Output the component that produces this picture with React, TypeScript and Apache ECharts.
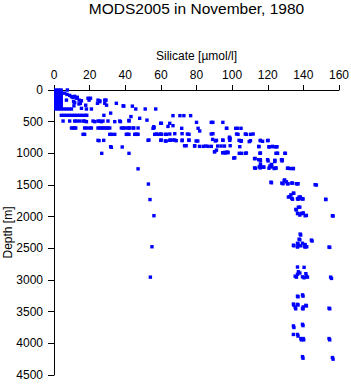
import React, { useEffect, useRef } from "react";
import * as echarts from "echarts";

const titleText = "MODS2005 in November, 1980";
const xName = "Silicate [µmol/l]";
const yName = "Depth [m]";
const xMin = 0, xMax = 160, xStep = 20;
const yMin = 0, yMax = 4500, yStep = 500;

// [silicate, depth]
const surfaceBlock: [number, number][] = [
  [1, 0], [2.5, 0], [4, 0], [1, 25], [2.5, 25], [4, 25], [1, 50], [2.5, 50], [4, 50],
  [1, 75], [2.5, 75], [4, 75], [1, 100], [2.5, 100], [4, 100], [1, 125], [2.5, 125], [4, 125],
  [1, 150], [2.5, 150], [4, 150], [1, 175], [2.5, 175], [4, 175], [1, 200], [2.5, 200], [4, 200],
  [1, 225], [2.5, 225], [4, 225], [1, 250], [2.5, 250], [4, 250], [1, 275], [2.5, 275], [4, 275],
  [1, 300], [2.5, 300], [4, 300],
];

const upperPoints: [number, number][] = [
  [7.5, 0], [6, 50], [7.3, 70], [8.8, 85], [9.8, 105], [10.7, 120], [11.6, 100], [12.6, 130], [13.1, 115],
  [7, 160], [11, 185], [14.1, 160], [15.4, 170], [11.6, 200], [14.8, 210], [14, 220], [17.8, 240],
  [19.1, 130], [20.5, 130], [19.7, 160], [24.7, 160], [25.7, 170], [28.5, 160], [29.2, 160], [25.7, 185],
  [24.4, 210], [28.5, 210], [35, 210], [29.5, 240], [38.8, 250], [39.2, 255], [44, 255], [11.2, 250],
  [15.4, 290], [18.2, 300], [21, 300], [45.9, 300], [51.2, 300], [57.1, 300], [5.5, 300], [7, 300],
  [8.5, 300], [9.8, 300],
];

const rows400to500: [number, number][] = [
  [4.1, 400], [5.5, 400], [7, 400], [8.5, 400], [10, 400], [11.5, 400], [13, 400], [14.5, 400], [16, 400],
  [17.5, 400], [18.4, 400], [28, 400], [31.8, 365], [43.2, 420], [42.1, 480], [48.1, 447], [52.2, 476],
  [36.9, 490], [34.1, 500], [26.6, 500], [42.1, 490], [5.1, 490], [8.8, 490], [11.6, 490], [12.6, 490],
  [14.4, 490], [16.3, 490], [17.2, 490], [18.2, 500], [21.9, 490], [22.9, 500], [24.7, 490], [25.7, 490],
  [27.5, 490], [30.3, 490], [37.3, 500], [66.8, 405], [70.7, 405], [72.9, 405], [76.7, 405], [80, 511],
  [88.3, 511], [89.2, 511], [94.8, 511], [59.9, 526], [60.3, 526], [65, 526], [64, 575], [66.8, 563],
];

const rows600to700: [number, number][] = [
  [9.8, 600], [10.7, 600], [11.6, 600], [12.2, 600], [17.2, 600], [18.2, 600], [20, 600], [21, 600],
  [24.7, 600], [25.7, 600], [26.6, 600], [27.5, 600], [28.5, 600], [29.4, 600], [30.3, 600], [31.3, 600],
  [37.8, 600], [38.8, 600], [39.7, 600], [41.2, 600], [42.1, 600], [42.5, 600], [44.4, 600], [44.8, 600],
  [47.2, 600], [55.6, 605], [56, 580], [56.2, 595], [71.7, 605], [80.9, 605], [81.8, 647], [97, 605],
  [96.8, 605], [102, 605], [103, 605], [105, 605],
  [16.3, 700], [17.2, 700], [31.3, 700], [32.2, 700], [34.1, 700], [40.6, 700], [41.2, 700], [42.1, 700],
  [45.3, 700], [45.9, 700], [46.6, 700], [47.2, 700], [56.5, 700], [57.5, 695], [58.4, 700], [59.9, 695],
  [60.3, 700], [62.5, 700], [63.1, 700], [65, 695], [67.8, 690], [71.9, 690], [74.9, 695], [75.8, 700],
  [88.3, 695], [89.2, 690], [98.5, 745], [98.5, 765], [102.5, 695], [103.3, 700], [107.4, 695], [108, 700],
  [110.3, 700], [111.8, 695],
];

const rows800to1000: [number, number][] = [
  [24.7, 795], [25.3, 800], [27.9, 795], [52.8, 795], [53.3, 790], [59.9, 795], [60.2, 790], [62.5, 805],
  [63, 805], [65, 795], [65.3, 790], [66.8, 790], [67.8, 790], [68.6, 800], [71.9, 800], [72, 790],
  [75.7, 790], [75.8, 795], [79.8, 805], [80.7, 805], [89.1, 780], [90.6, 805], [91.2, 795], [94.7, 790],
  [94.9, 795], [98.7, 795], [98.9, 765], [103.9, 795], [105, 810], [105.2, 800], [109.6, 815], [110.3, 800],
  [115.8, 800], [115.9, 795], [117.1, 810], [119.9, 800], [120.2, 795],
  [31.8, 895], [32.2, 905], [38.3, 900], [73.3, 880], [74.2, 880], [78.9, 885], [79, 880], [81.7, 890],
  [83.8, 890], [85.2, 885], [86.5, 890], [88.3, 890], [91.9, 885], [93.8, 885], [95.7, 885], [98.9, 880],
  [104.3, 895], [114.9, 890], [115.1, 895], [120.7, 895], [120.8, 900], [122.7, 890], [123, 895],
  [124.6, 900], [125.2, 895],
  [26.8, 1000], [42.1, 1000], [90.1, 975], [90.2, 975], [91.2, 950], [94.7, 990], [94.9, 990], [95.8, 985],
  [96.2, 995], [96.8, 985], [97.5, 980], [97.7, 990], [104, 1000], [105.2, 1000], [107.4, 1000], [108, 995],
  [115.6, 1000], [115.9, 995], [124.6, 1000], [125.4, 1000], [125.5, 1000], [129.6, 1000], [129.9, 1000],
];

const rows1100to1250: [number, number][] = [
  [100.9, 1075], [101.5, 1070], [112.6, 1085], [112.9, 1080], [114.9, 1100], [115.8, 1100], [115.9, 1120],
  [119.9, 1100], [120.2, 1120], [123.9, 1120], [124, 1110], [127.7, 1100], [128, 1120], [128.2, 1105],
  [115.9, 1175], [122.1, 1175], [123.9, 1130],
  [47.2, 1245], [112.6, 1230], [113.1, 1235], [115.2, 1215], [115.8, 1230], [115.9, 1200], [117.6, 1215],
  [117.8, 1220], [120.7, 1235], [121.2, 1200], [122.1, 1185], [122.3, 1215], [123.6, 1240], [124.5, 1235],
  [124.6, 1230], [131.1, 1235], [131.4, 1235], [132.6, 1240], [134.2, 1240], [134.4, 1240],
];

const rows1400to2000: [number, number][] = [
  [121.8, 1455], [122.1, 1465], [127.9, 1470], [128.6, 1480], [129.2, 1430], [129.5, 1420], [130.5, 1450],
  [131.1, 1480], [131.4, 1480], [133.5, 1470], [133.9, 1470], [136.1, 1480], [136.7, 1480], [137, 1480],
  [146.6, 1495], [147.3, 1500], [53, 1485],
  [134.4, 1630], [134.6, 1630], [133, 1655], [132.3, 1685], [131.6, 1690], [133.9, 1725], [133.5, 1710],
  [137.6, 1690], [138.3, 1690], [138.6, 1715], [136.7, 1715], [137, 1725], [139.5, 1720], [139.8, 1720],
  [152.5, 1725], [152.6, 1730], [53.9, 1730],
  [137.2, 1850], [138, 1850], [135.8, 1885], [136.1, 1895], [136.7, 1950], [137, 1950], [138, 1975],
  [138.9, 1950], [139.8, 1950], [139.9, 1940], [141, 1985], [141.7, 1980], [156.3, 1985], [156.7, 1990],
  [56.1, 1985],
];

const deepPoints: [number, number][] = [
  [138.2, 2275], [138.5, 2290], [137.6, 2355], [138, 2365], [136.7, 2420], [137, 2430], [139.5, 2420],
  [141, 2440], [137.2, 2455], [138.6, 2460], [134.4, 2450], [134.7, 2460], [136.7, 2480], [141, 2480],
  [141.9, 2475], [140.8, 2470], [144.5, 2370], [144.9, 2385], [154.4, 2480], [154.8, 2485], [55, 2475],
  [136.7, 2795], [140.4, 2800], [137.2, 2870], [138, 2890], [136.7, 2910], [141.4, 2900], [141.7, 2940],
  [139.5, 2950], [140.4, 2965], [135.4, 2940], [136.1, 2955], [142.3, 2955], [155.3, 2955], [155.8, 2975],
  [54.1, 2955],
  [139.5, 3235], [139.8, 3255], [136.7, 3255], [137, 3265], [134.4, 3380], [134.6, 3395], [136.7, 3385],
  [137, 3395], [141.4, 3400], [141.7, 3410], [139.9, 3425], [139.5, 3450], [135.4, 3430], [135.7, 3455],
  [139.8, 3455], [154.4, 3445], [154.8, 3455],
  [139.5, 3700], [139.8, 3720], [134.4, 3725], [134.7, 3750], [134.4, 3860], [136.7, 3860], [137, 3885],
  [138.6, 3925], [138.9, 3945], [139.9, 3925], [140.2, 3945], [154.4, 3925], [154.8, 3945], [139.5, 4210],
  [139.8, 4235], [156.3, 4225], [156.7, 4250],
];

const FONT = "'Liberation Sans', Arial, Helvetica, sans-serif";

export default function App() {
  const ref = useRef<HTMLDivElement>(null);
  useEffect(() => {
    document.body.style.margin = "0";
    if (!ref.current) return;
    const chart = echarts.init(ref.current, undefined, { renderer: "svg" });
    const all = [
      ...surfaceBlock, ...upperPoints, ...rows400to500, ...rows600to700,
      ...rows800to1000, ...rows1100to1250, ...rows1400to2000, ...deepPoints,
    ];
    chart.setOption({
      animation: false,
      backgroundColor: "#ffffff",
      textStyle: { fontFamily: FONT },
      graphic: [
        {
          type: "text",
          x: 196.5,
          y: 8,
          style: {
            text: titleText,
            fontSize: 15.5,
            fontFamily: FONT,
            fill: "#000",
            align: "center",
            verticalAlign: "middle",
          },
        },
      ],
      grid: { left: 54, right: 12, top: 90, bottom: 9, containLabel: false, outerBoundsMode: "none" },
      xAxis: {
        type: "value",
        position: "top",
        min: xMin,
        max: xMax,
        interval: xStep,
        name: xName,
        nameLocation: "middle",
        nameGap: 28,
        nameMoveOverlap: false,
        nameTextStyle: { fontSize: 12, color: "#000", fontFamily: FONT },
        axisLine: { show: true, onZero: false, lineStyle: { color: "#000", width: 1 } },
        axisTick: { show: true, length: 5, lineStyle: { color: "#000", width: 1 } },
        axisLabel: { color: "#000", fontSize: 12, margin: 9, fontFamily: FONT, formatter: (v: number) => String(v) },
        splitLine: { show: false },
      },
      yAxis: {
        type: "value",
        inverse: true,
        min: yMin,
        max: yMax,
        interval: yStep,
        name: yName,
        nameLocation: "middle",
        nameGap: 40,
        nameMoveOverlap: false,
        nameTextStyle: { fontSize: 12, color: "#000", fontFamily: FONT },
        axisLine: { show: true, onZero: false, lineStyle: { color: "#000", width: 1 } },
        axisTick: { show: true, length: 6, lineStyle: { color: "#000", width: 1 } },
        axisLabel: { color: "#000", fontSize: 12, margin: 11, fontFamily: FONT, formatter: (v: number) => String(v) },
        splitLine: { show: false },
      },
      series: [
        {
          type: "scatter",
          data: all,
          symbol: "rect",
          symbolSize: 3.4,
          itemStyle: { color: "#0000ff", opacity: 1 },
          silent: true,
        },
      ],
    });
    return () => chart.dispose();
  }, []);
  return <div ref={ref} style={{ width: 351, height: 384 }} />;
}
